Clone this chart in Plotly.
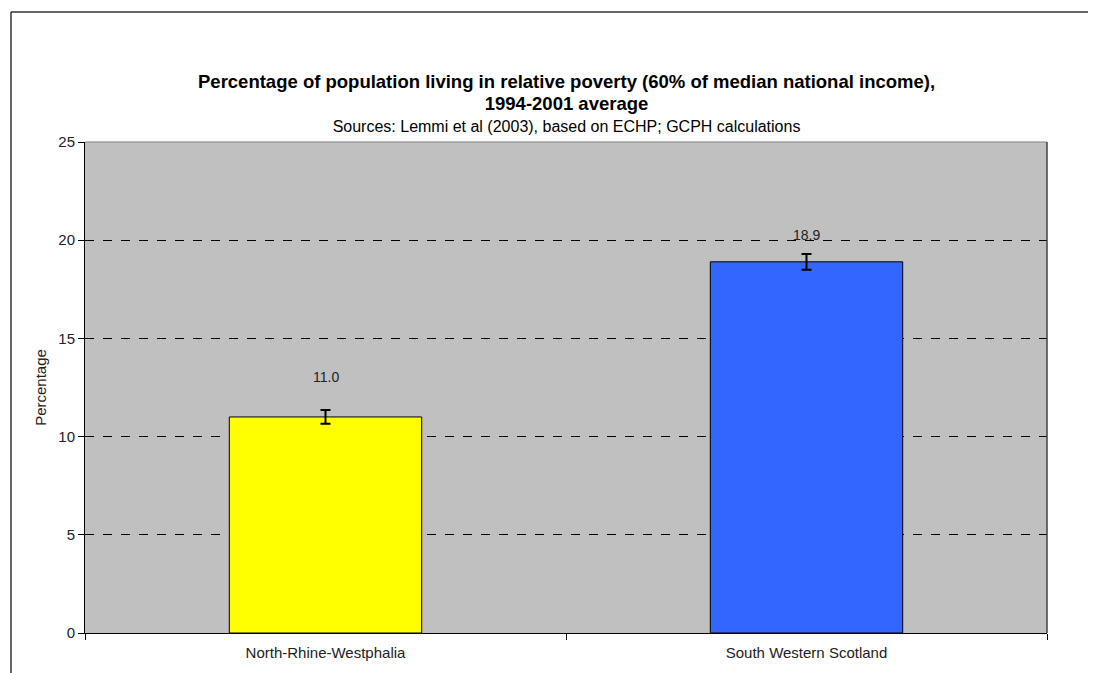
import plotly.graph_objects as go

categories = ["North-Rhine-Westphalia", "South Western Scotland"]
values = [11.0, 18.9]
errors = [0.35, 0.4]
bar_colors = ["#FFFF00", "#3366FF"]
label_texts = ["11.0", "18.9"]
y_ticks = [0, 5, 10, 15, 20, 25]

title_line1 = "Percentage of population living in relative poverty (60% of median national income),"
title_line2 = "1994-2001 average"
subtitle = "Sources: Lemmi et al (2003), based on ECHP; GCPH calculations"

FONT = "Arial, Liberation Sans, sans-serif"

# plot area in screenshot pixels: x 85..1047, y 142..633 (page body adds 8px offset)
PX0, PX1, PY0, PY1 = 85, 1047, 142, 633
PW, PH = PX1 - PX0, PY1 - PY0
OFF = 8


def px(x):
    return (x - PX0) / PW


def py(y):
    return (PY1 - y) / PH


fig = go.Figure()
fig.add_trace(go.Bar(
    x=categories, y=values, width=0.4,
    marker=dict(color=bar_colors, line=dict(color="black", width=1)),
    error_y=dict(type="data", array=errors, visible=True, color="black", thickness=2, width=5),
    showlegend=False, hoverinfo="skip",
))

shifts = [40, 27]
for c, v, t, s in zip(categories, values, label_texts, shifts):
    fig.add_annotation(x=c, y=v, text=t, showarrow=False, yshift=s, yanchor="middle",
                       font=dict(family=FONT, size=14, color="#222222"))

# titles (single text block; line spacing = 1.3 x base font size)
title_text = (
    f'<span style="font-size:18.5px"><b>{title_line1}</b></span><br>'
    f'<span style="font-size:18.5px"><b>{title_line2}</b></span><br>'
    f'<span style="font-size:16px">{subtitle}</span>'
)
fig.add_annotation(xref="paper", yref="paper", x=px(566), y=py(103), text=title_text,
                   showarrow=False, xanchor="center", yanchor="middle", align="center",
                   font=dict(family=FONT, size=17, color="black"))

# plot area top/right border
fig.add_shape(type="line", xref="paper", yref="paper", x0=0, x1=1, y0=1, y1=1,
              line=dict(color="#808080", width=1), layer="above")
fig.add_shape(type="line", xref="paper", yref="paper", x0=1, x1=1, y0=0, y1=1,
              line=dict(color="#404040", width=1.5), layer="above")
# outer chart border
fig.add_shape(type="line", xref="paper", yref="paper", x0=px(11), x1=px(11), y0=py(12), y1=py(700),
              line=dict(color="#333333", width=1.5))
fig.add_shape(type="line", xref="paper", yref="paper", x0=px(11), x1=px(1120), y0=py(12), y1=py(12),
              line=dict(color="#333333", width=1.5))

W, H = 1096, 673
fig.update_layout(
    width=W, height=H,
    margin=dict(l=PX0 - OFF, r=W - (PX0 - OFF) - PW, t=PY0 - OFF, b=H - (PY0 - OFF) - PH),
    paper_bgcolor="white", plot_bgcolor="#C0C0C0",
    font=dict(family=FONT, size=12, color="black"),
)
fig.update_xaxes(
    type="category", tickson="boundaries", ticks="outside", ticklen=6, tickcolor="black",
    showline=True, linecolor="black", linewidth=1, showgrid=False,
    ticklabelstandoff=6,
    tickfont=dict(family=FONT, size=15, color="#222222"),
)
fig.update_yaxes(
    range=[0, 25], tickvals=y_ticks, ticks="outside", ticklen=6, tickcolor="black",
    showline=True, linecolor="black", linewidth=1,
    showgrid=True, gridcolor="black", gridwidth=1, griddash="dash", zeroline=False,
    title=dict(text="Percentage", font=dict(family=FONT, size=15, color="#222222"), standoff=8),
    tickfont=dict(family=FONT, size=15, color="#222222"),
)

fig.write_html("out.html")
